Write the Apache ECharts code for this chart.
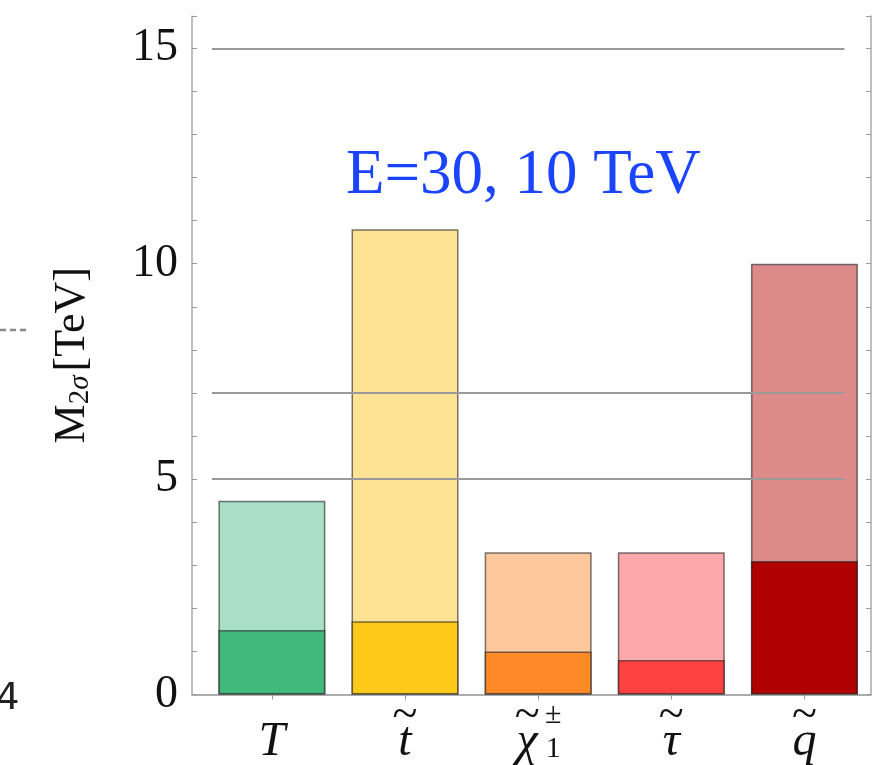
<!DOCTYPE html>
<html>
<head>
<meta charset="utf-8">
<title>M2sigma reach</title>
<script src="https://cdn.jsdelivr.net/npm/echarts@6/dist/echarts.min.js"></script>
<style>
  html, body { margin: 0; padding: 0; background: #fff; }
  #box { width: 881px; height: 765px; }
</style>
</head>
<body>
<div id="box"></div>
<script>
// categories (x positions 1..5) and the two reach levels per particle, in TeV
var particles = ['T', 't', 'chi', 'tau', 'q'];
var particleIndex = [1, 2, 3, 4, 5];
var highReach = [4.5, 10.8, 3.3, 3.3, 10.0];
var lowReach = [1.5, 1.7, 1.0, 0.8, 3.1];
// horizontal reference lines
var refMasses = [5, 7, 15];
var refSpan = [0.55, 5.3];
var yTicks = [0, 5, 10, 15];

var lightColors = ['#a8dfc5', '#ffe395', '#fec89c', '#ffa8ab', '#dd8a8b'];
var darkColors = ['#41b97d', '#fec918', '#fd8a27', '#fe4141', '#b00000'];

var serif = '"Liberation Serif", "DejaVu Serif", serif';

var labelText = {
  T: '{tl| }\n{i|T}',
  t: '{tl|~}\n{i|t}',
  chi: '{tl|~}{sup|±}\n{ic|χ}{sub|1}',
  tau: '{tl|~}\n{i|τ}',
  q: '{tl|~}\n{i|q}'
};

var box = echarts.init(document.getElementById('box'));

var highData = [], lowData = [];
for (var i = 0; i < particles.length; i++) {
  highData.push({ value: [particleIndex[i], highReach[i]], itemStyle: { color: lightColors[i] } });
  lowData.push({ value: [particleIndex[i], lowReach[i]], itemStyle: { color: darkColors[i] } });
}

var refLines = refMasses.map(function (m) {
  return [{ coord: [refSpan[0], m] }, { coord: [refSpan[1], m] }];
});

var frameLine = { show: true, lineStyle: { color: '#a8a8a8', width: 1.5 } };

box.setOption({
  animation: false,
  title: {
    text: 'E=30, 10 TeV',
    left: 346,
    top: 145,
    padding: 0,
    textStyle: { fontFamily: serif, fontSize: 63, fontWeight: 'normal', color: '#1a44ff' }
  },
  grid: {
    left: 192, right: 10, top: 16, bottom: 70.5,
    outerBoundsMode: 'none',
    containLabel: false
  },
  xAxis: [
    {
      type: 'value', min: 0.4, max: 5.5, position: 'bottom',
      axisLine: frameLine,
      splitLine: { show: false },
      axisTick: { show: true, inside: true, length: 5, customValues: particleIndex, lineStyle: { color: '#999' } },
      axisLabel: {
        customValues: particleIndex,
        margin: 16,
        formatter: function (v) { return labelText[particles[Math.round(v) - 1]] || ''; },
        rich: {
          tl: { fontFamily: serif, fontSize: 46, lineHeight: 10, color: '#111', width: 30, align: 'center' },
          i: { fontFamily: serif, fontStyle: 'italic', fontSize: 48, lineHeight: 44, color: '#111' },
          ic: { fontFamily: serif, fontStyle: 'italic', fontSize: 48, lineHeight: 44, color: '#111', width: 30, align: 'center' },
          sup: { fontFamily: serif, fontSize: 30, lineHeight: 10, color: '#111', width: 22, align: 'left' },
          sub: { fontFamily: serif, fontSize: 30, lineHeight: 30, verticalAlign: 'bottom', color: '#111', width: 22, align: 'left' }
        }
      }
    },
    {
      type: 'value', min: 0.4, max: 5.5, position: 'top',
      axisLine: frameLine,
      splitLine: { show: false },
      axisTick: { show: true, inside: true, length: 5, customValues: particleIndex, lineStyle: { color: '#999' } },
      axisLabel: { show: false }
    }
  ],
  yAxis: [
    {
      type: 'value', min: 0, max: 15.75, interval: 5, position: 'left',
      axisLine: frameLine,
      splitLine: { show: false },
      axisTick: { show: true, inside: true, length: 5, lineStyle: { color: '#999' } },
      minorTick: { show: true, splitNumber: 5, length: 5, lineStyle: { color: '#999' } },
      axisLabel: {
        margin: 14, showMaxLabel: false,
        fontFamily: serif, fontSize: 46, color: '#111',
        formatter: function (v) { return yTicks.indexOf(v) >= 0 ? String(v) : ''; }
      },
      name: '{m|M}{s|2}{si|σ}{m|[TeV]}',
      nameLocation: 'middle',
      nameGap: 97,
      nameTextStyle: {
        rich: {
          m: { fontFamily: serif, fontSize: 44, lineHeight: 46, color: '#111' },
          s: { fontFamily: serif, fontSize: 29, lineHeight: 22, verticalAlign: 'bottom', color: '#111' },
          si: { fontFamily: serif, fontStyle: 'italic', fontSize: 29, lineHeight: 22, verticalAlign: 'bottom', color: '#111', padding: [0, 4, 0, 0] }
        }
      }
    },
    {
      type: 'value', min: 0, max: 15.75, interval: 5, position: 'right',
      axisLine: frameLine,
      splitLine: { show: false },
      axisTick: { show: true, inside: true, length: 5, lineStyle: { color: '#999' } },
      minorTick: { show: true, splitNumber: 5, length: 5, lineStyle: { color: '#999' } },
      axisLabel: { show: false }
    }
  ],
  series: [
    {
      name: 'high',
      type: 'bar',
      barWidth: 107,
      barGap: '-100%',
      itemStyle: { borderColor: 'rgba(30,30,30,0.6)', borderWidth: 1.5 },
      data: highData,
      markLine: {
        silent: true,
        symbol: 'none',
        label: { show: false },
        lineStyle: { color: '#9a9a9a', width: 2, type: 'solid' },
        data: refLines
      }
    },
    {
      name: 'low',
      type: 'bar',
      barWidth: 107,
      barGap: '-100%',
      itemStyle: { borderColor: 'rgba(30,30,30,0.6)', borderWidth: 1.5 },
      data: lowData
    }
  ],
  graphic: [
    {
      type: 'text', x: -4, y: 699,
      style: { text: '4', fontSize: 37, fontFamily: '"DejaVu Sans", sans-serif', fill: '#222', verticalAlign: 'middle' }
    },
    {
      type: 'line',
      shape: { x1: 0, y1: 330, x2: 27, y2: 330 },
      style: { stroke: '#888', lineWidth: 2.5, lineDash: [6, 4] }
    }
  ]
});
</script>
</body>
</html>
